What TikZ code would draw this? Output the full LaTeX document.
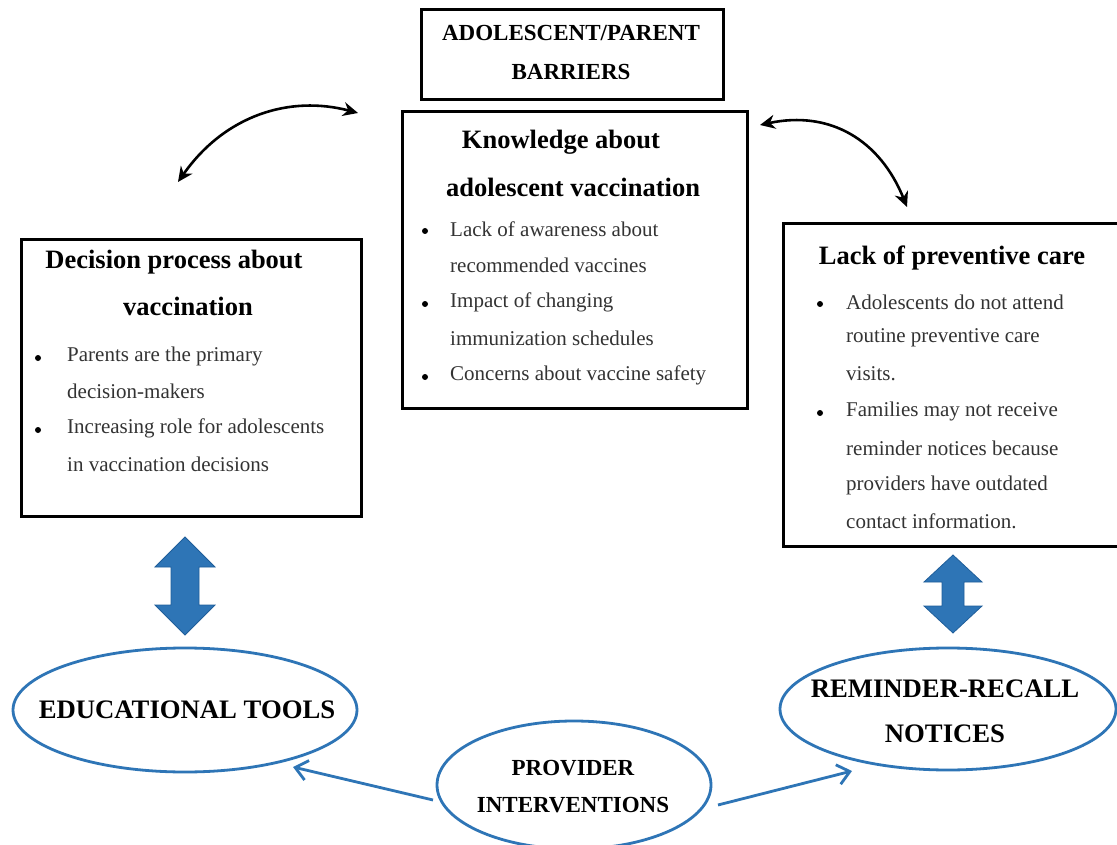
\documentclass[tikz,border=0pt]{standalone}
\usepackage{fontspec}
\setmainfont{Liberation Serif}
\usetikzlibrary{arrows.meta}
\definecolor{bl}{HTML}{2E75B6}
\definecolor{bld}{HTML}{1F5E9A}
\definecolor{txt}{HTML}{333333}
\tikzset{
  box/.style={draw=black,line width=2.6pt,inner sep=0pt,anchor=north west},
  title/.style={font=\fontsize{26.5}{30}\selectfont\bfseries,inner sep=0pt},
  caps/.style={font=\fontsize{23}{27}\selectfont\bfseries,inner sep=0pt},
  bigcaps/.style={font=\fontsize{26.7}{30}\selectfont\bfseries,inner sep=0pt},
  btxt/.style={font=\fontsize{21}{25}\selectfont,text=txt,inner sep=0pt,anchor=west},
  bul/.style={circle,fill=black,minimum size=6pt,inner sep=0pt},
  ell/.style={draw=bl,line width=2.8pt,ellipse},
  curv/.style={line width=2.6pt,{Stealth[length=15pt,width=14pt]}-{Stealth[length=15pt,width=14pt]}},
  blarr/.style={draw=bl,line width=2.8pt,-{Straight Barb[length=12pt,width=20pt]}},
  block/.style={fill=bl,draw=bld,line width=0.8pt}
}
\usetikzlibrary{shapes.geometric}
\begin{document}
\begin{tikzpicture}[x=1pt,y=-1pt]
\useasboundingbox (0,0) rectangle (1117,845);
\fill[white] (0,0) rectangle (1117,845);
% top box
\node[box,minimum width=302pt,minimum height=90pt] (top) at (420,8) {};
\node[caps] (t1) at (571,33) {ADOLESCENT/PARENT};
\node[caps] (t2) at (571,72) {BARRIERS};
% knowledge box
\node[box,minimum width=345pt,minimum height=297pt] (kn) at (401,110) {};
\node[title] (k1) at (561,142) {Knowledge about};
\node[title] (k2) at (573,187) {adolescent vaccination};
\node[bul] (kb1) at (425,231) {};
\node[btxt] at (450,229) {Lack of awareness about};
\node[btxt] at (450,265) {recommended vaccines};
\node[bul] (kb2) at (425,304) {};
\node[btxt] at (450,302) {Impact of changing};
\node[btxt] at (450,338) {immunization schedules};
\node[bul] (kb3) at (425,377) {};
\node[btxt] at (450,375) {Concerns about vaccine safety};
% decision box
\node[box,minimum width=340pt,minimum height=277pt] (dec) at (20,238) {};
\node[title] (d1) at (174,262) {Decision process about};
\node[title] (d2) at (188,306) {vaccination};
\node[bul] (db1) at (38,358) {};
\node[btxt] at (67,356) {Parents are the primary};
\node[btxt] at (67,391) {decision-makers};
\node[bul] (db2) at (38,430) {};
\node[btxt] at (67,428) {Increasing role for adolescents};
\node[btxt] at (67,464) {in vaccination decisions};
% lack box
\node[box,minimum width=340pt,minimum height=323pt] (lack) at (782,222) {};
\node[title] (l1) at (952,258) {Lack of preventive care};
\node[bul] (lb1) at (820,304) {};
\node[btxt] at (846,302) {Adolescents do not attend};
\node[btxt] at (846,338) {routine preventive care};
\node[btxt] at (846,374) {visits.};
\node[bul] (lb2) at (820,413) {};
\node[btxt] at (846,411) {Families may not receive};
\node[btxt] at (846,448) {reminder notices because};
\node[btxt] at (846,485) {providers have outdated};
\node[btxt] at (846,521) {contact information.};
% curved arrows
\coordinate (cl1) at (178,182);
\coordinate (cl2) at (358,113);
\coordinate (cr1) at (760,125);
\coordinate (cr2) at (907,207);
\draw[curv] (cl1) .. controls (225,115) and (290,95) .. (cl2);
\draw[curv] (cr1) .. controls (830,110) and (880,140) .. (cr2);
% block arrows
\path[block] (185,537) -- (215,567) -- (199,567) -- (199,605) -- (215,605) -- (185,635) -- (155,605) -- (171,605) -- (171,567) -- (155,567) -- cycle;
\path[block] (953,555) -- (982,582) -- (964,582) -- (964,606) -- (982,606) -- (953,633) -- (924,606) -- (942,606) -- (942,582) -- (924,582) -- cycle;
% ellipses
\node[ell,minimum width=344pt,minimum height=124pt,inner sep=0pt] (edu) at (185,710) {};
\node[bigcaps] at (187,710) {EDUCATIONAL TOOLS};
\node[ell,minimum width=336pt,minimum height=122pt,inner sep=0pt] (rem) at (948,709) {};
\node[bigcaps] at (945,689) {REMINDER-RECALL};
\node[bigcaps] at (945,734) {NOTICES};
\node[ell,minimum width=274pt,minimum height=128pt,inner sep=0pt] (prov) at (574,785) {};
\node[caps] at (573,768) {PROVIDER};
\node[caps] at (573,805) {INTERVENTIONS};
% provider arrows
\coordinate (pa1) at (433,800);
\coordinate (pa2) at (293,767);
\coordinate (pb1) at (718,805);
\coordinate (pb2) at (852,771);
\draw[blarr] (pa1) -- (pa2);
\draw[blarr] (pb1) -- (pb2);
\end{tikzpicture}
\end{document}
